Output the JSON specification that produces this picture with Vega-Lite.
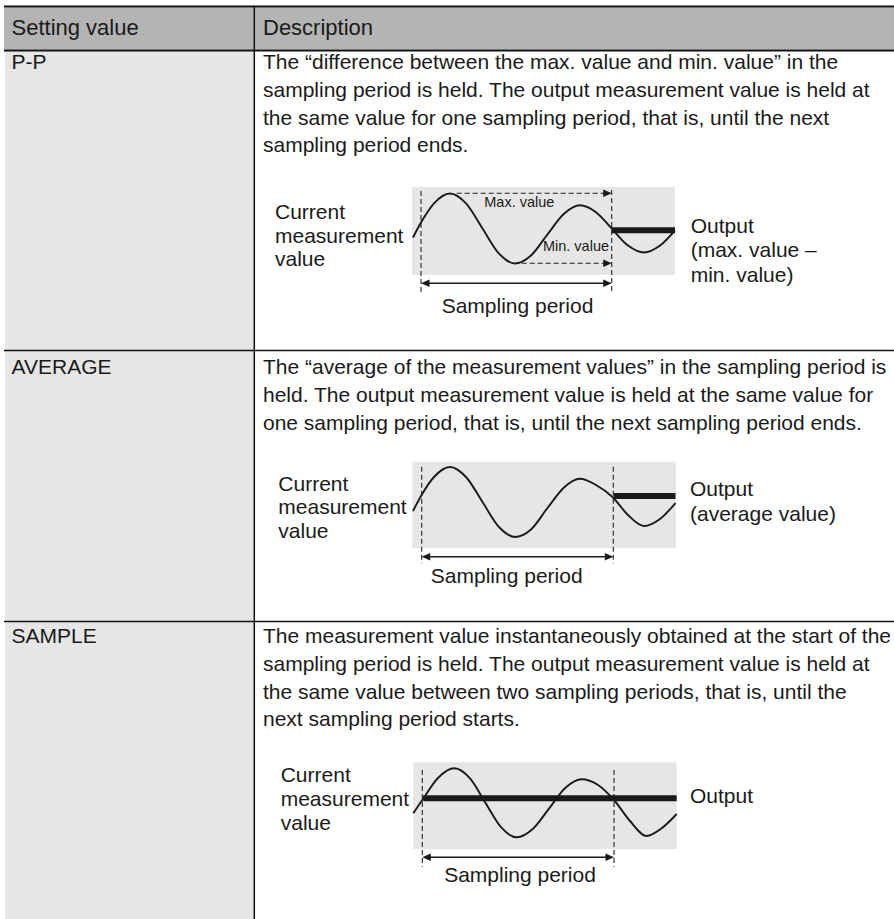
{
  "$schema": "https://vega.github.io/schema/vega-lite/v6.json",
  "width": 894,
  "height": 919,
  "padding": 0,
  "autosize": {"type": "none"},
  "background": "white",
  "config": {"view": {"stroke": null}},
  "datasets": {
    "rects": [
      {"kind": "header", "x": 4, "x2": 894, "y": 7.5, "y2": 49.5},
      {"kind": "col", "x": 5, "x2": 254, "y": 51, "y2": 919},
      {"kind": "box", "x": 412, "x2": 675, "y": 187, "y2": 275},
      {"kind": "box", "x": 412.3, "x2": 676, "y": 461.7, "y2": 548.3},
      {"kind": "box", "x": 413.3, "x2": 676.7, "y": 762.3, "y2": 849.3}
    ],
    "lines": [
      {"kind": "border2", "x": 4, "x2": 894, "y": 6.5, "y2": 6.5},
      {"kind": "border2", "x": 4, "x2": 894, "y": 50.5, "y2": 50.5},
      {"kind": "border1", "x": 4, "x2": 894, "y": 350.5, "y2": 350.5},
      {"kind": "border1", "x": 4, "x2": 894, "y": 621.5, "y2": 621.5},
      {"kind": "divider", "x": 254.3, "x2": 254.3, "y": 6, "y2": 919},
      {"kind": "dash", "x": 421, "x2": 421, "y": 191, "y2": 292},
      {"kind": "dash", "x": 611.7, "x2": 611.7, "y": 190, "y2": 292},
      {"kind": "dash", "x": 456.7, "x2": 607, "y": 193.3, "y2": 193.3},
      {"kind": "dash", "x": 521.7, "x2": 607, "y": 263.3, "y2": 263.3},
      {"kind": "dash", "x": 421.7, "x2": 421.7, "y": 466.7, "y2": 563.3},
      {"kind": "dash", "x": 613.3, "x2": 613.3, "y": 466.7, "y2": 563.3},
      {"kind": "dash", "x": 422.3, "x2": 422.3, "y": 770, "y2": 866.7},
      {"kind": "dash", "x": 614, "x2": 614, "y": 770, "y2": 866.7},
      {"kind": "solid", "x": 424, "x2": 609, "y": 283.3, "y2": 283.3},
      {"kind": "solid", "x": 424.5, "x2": 610.5, "y": 556.7, "y2": 556.7},
      {"kind": "solid", "x": 425, "x2": 611, "y": 857.3, "y2": 857.3},
      {"kind": "bar", "x": 612, "x2": 675, "y": 230.3, "y2": 230.3},
      {"kind": "bar", "x": 614, "x2": 675.5, "y": 496, "y2": 496},
      {"kind": "bar", "x": 423.3, "x2": 676.7, "y": 798.3, "y2": 798.3}
    ],
    "waves": [
      {"d": "PP", "x": 413, "y": 237.5}, {"d": "PP", "x": 421, "y": 222.6}, {"d": "PP", "x": 434, "y": 203.4},
      {"d": "PP", "x": 450, "y": 193.5}, {"d": "PP", "x": 466, "y": 203.4}, {"d": "PP", "x": 482.5, "y": 228.5},
      {"d": "PP", "x": 499, "y": 253.6}, {"d": "PP", "x": 515, "y": 263.5}, {"d": "PP", "x": 531, "y": 255.5},
      {"d": "PP", "x": 547.5, "y": 234.4}, {"d": "PP", "x": 564, "y": 213.8}, {"d": "PP", "x": 580, "y": 205.3},
      {"d": "PP", "x": 596, "y": 212.2}, {"d": "PP", "x": 612, "y": 228.9}, {"d": "PP", "x": 628, "y": 245.6},
      {"d": "PP", "x": 644, "y": 252.5}, {"d": "PP", "x": 660, "y": 245.6}, {"d": "PP", "x": 675, "y": 230.3},
      {"d": "AV", "x": 413, "y": 511}, {"d": "AV", "x": 421, "y": 496}, {"d": "AV", "x": 434, "y": 477},
      {"d": "AV", "x": 450, "y": 467}, {"d": "AV", "x": 466, "y": 477}, {"d": "AV", "x": 482.5, "y": 502},
      {"d": "AV", "x": 499, "y": 527}, {"d": "AV", "x": 515, "y": 537}, {"d": "AV", "x": 531, "y": 529.5},
      {"d": "AV", "x": 547.5, "y": 508}, {"d": "AV", "x": 564, "y": 487.5}, {"d": "AV", "x": 580, "y": 478.8},
      {"d": "AV", "x": 596, "y": 485}, {"d": "AV", "x": 612.5, "y": 497}, {"d": "AV", "x": 628, "y": 515},
      {"d": "AV", "x": 644, "y": 526}, {"d": "AV", "x": 660, "y": 519}, {"d": "AV", "x": 675.5, "y": 503},
      {"d": "SA", "x": 413.3, "y": 813.3}, {"d": "SA", "x": 422.3, "y": 800}, {"d": "SA", "x": 438, "y": 778},
      {"d": "SA", "x": 454.3, "y": 768.3}, {"d": "SA", "x": 470, "y": 778.4}, {"d": "SA", "x": 485.4, "y": 802.8},
      {"d": "SA", "x": 501, "y": 827.2}, {"d": "SA", "x": 516.7, "y": 837.3}, {"d": "SA", "x": 533, "y": 828.8},
      {"d": "SA", "x": 549.2, "y": 808.3}, {"d": "SA", "x": 565.5, "y": 787.8}, {"d": "SA", "x": 581.7, "y": 779.3},
      {"d": "SA", "x": 598, "y": 785}, {"d": "SA", "x": 614, "y": 800}, {"d": "SA", "x": 630, "y": 821},
      {"d": "SA", "x": 646.7, "y": 836}, {"d": "SA", "x": 662, "y": 828}, {"d": "SA", "x": 676.7, "y": 814}
    ],
    "heads": [
      {"dir": "right", "x": 611.7, "y": 193.3},
      {"dir": "right", "x": 611.7, "y": 263.3},
      {"dir": "left", "x": 421, "y": 283.3},
      {"dir": "right", "x": 611.7, "y": 283.3},
      {"dir": "left", "x": 421.7, "y": 556.7},
      {"dir": "right", "x": 613.3, "y": 556.7},
      {"dir": "left", "x": 422.3, "y": 857.3},
      {"dir": "right", "x": 614, "y": 857.3}
    ],
    "texts": [
      {"kind": "head", "x": 11.5, "y": 28, "text": "Setting value"},
      {"kind": "head", "x": 263, "y": 28, "text": "Description"},
      {"kind": "left", "x": 11.5, "y": 63, "text": "P-P"},
      {"kind": "left", "x": 263, "y": 63, "text": "The “difference between the max. value and min. value” in the"},
      {"kind": "left", "x": 263, "y": 90.8, "text": "sampling period is held. The output measurement value is held at"},
      {"kind": "left", "x": 263, "y": 118.6, "text": "the same value for one sampling period, that is, until the next"},
      {"kind": "left", "x": 263, "y": 146.4, "text": "sampling period ends."},
      {"kind": "left", "x": 275, "y": 213.3, "text": "Current"},
      {"kind": "left", "x": 275, "y": 236.7, "text": "measurement"},
      {"kind": "left", "x": 275, "y": 260, "text": "value"},
      {"kind": "left", "x": 690.7, "y": 226.7, "text": "Output"},
      {"kind": "left", "x": 690.7, "y": 251.2, "text": "(max. value –"},
      {"kind": "left", "x": 690.7, "y": 275.7, "text": "min. value)"},
      {"kind": "center", "x": 517.5, "y": 306.7, "text": "Sampling period"},
      {"kind": "small", "x": 519.3, "y": 203.3, "text": "Max. value"},
      {"kind": "small", "x": 576, "y": 247.3, "text": "Min. value"},
      {"kind": "left", "x": 11.5, "y": 368, "text": "AVERAGE"},
      {"kind": "left", "x": 263, "y": 368, "text": "The “average of the measurement values” in the sampling period is"},
      {"kind": "left", "x": 263, "y": 396, "text": "held. The output measurement value is held at the same value for"},
      {"kind": "left", "x": 263, "y": 424, "text": "one sampling period, that is, until the next sampling period ends."},
      {"kind": "left", "x": 278.3, "y": 485, "text": "Current"},
      {"kind": "left", "x": 278.3, "y": 508.3, "text": "measurement"},
      {"kind": "left", "x": 278.3, "y": 531.7, "text": "value"},
      {"kind": "left", "x": 690, "y": 490, "text": "Output"},
      {"kind": "left", "x": 690, "y": 514.5, "text": "(average value)"},
      {"kind": "center", "x": 506.7, "y": 576.7, "text": "Sampling period"},
      {"kind": "left", "x": 11.5, "y": 637, "text": "SAMPLE"},
      {"kind": "left", "x": 263, "y": 637, "text": "The measurement value instantaneously obtained at the start of the"},
      {"kind": "left", "x": 263, "y": 664.8, "text": "sampling period is held. The output measurement value is held at"},
      {"kind": "left", "x": 263, "y": 692.6, "text": "the same value between two sampling periods, that is, until the"},
      {"kind": "left", "x": 263, "y": 720.4, "text": "next sampling period starts."},
      {"kind": "left", "x": 280.7, "y": 776, "text": "Current"},
      {"kind": "left", "x": 280.7, "y": 800, "text": "measurement"},
      {"kind": "left", "x": 280.7, "y": 824, "text": "value"},
      {"kind": "left", "x": 690, "y": 796.7, "text": "Output"},
      {"kind": "center", "x": 520, "y": 876, "text": "Sampling period"}
    ]
  },
  "encoding": {
    "x": {"field": "x", "type": "quantitative", "scale": {"domain": [0, 894], "nice": false, "zero": false}, "axis": null},
    "y": {"field": "y", "type": "quantitative", "scale": {"domain": [0, 919], "nice": false, "zero": false, "reverse": true}, "axis": null}
  },
  "layer": [
    {
      "data": {"name": "rects"},
      "mark": {"type": "rect", "strokeWidth": 0},
      "encoding": {
        "x2": {"field": "x2"},
        "y2": {"field": "y2"},
        "color": {"field": "kind", "type": "nominal", "scale": {"domain": ["header", "col", "box"], "range": ["#b4b4b4", "#e6e6e6", "#e6e6e6"]}, "legend": null}
      }
    },
    {
      "data": {"name": "lines"},
      "transform": [{"filter": "datum.kind === 'border2'"}],
      "mark": {"type": "rule", "color": "#111111", "strokeWidth": 2.2},
      "encoding": {"x2": {"field": "x2"}, "y2": {"field": "y2"}}
    },
    {
      "data": {"name": "lines"},
      "transform": [{"filter": "datum.kind === 'border1'"}],
      "mark": {"type": "rule", "color": "#111111", "strokeWidth": 1.3},
      "encoding": {"x2": {"field": "x2"}, "y2": {"field": "y2"}}
    },
    {
      "data": {"name": "lines"},
      "transform": [{"filter": "datum.kind === 'divider'"}],
      "mark": {"type": "rule", "color": "#111111", "strokeWidth": 1.5},
      "encoding": {"x2": {"field": "x2"}, "y2": {"field": "y2"}}
    },
    {
      "data": {"name": "waves"},
      "mark": {"type": "line", "color": "#1a1a1a", "strokeWidth": 1.9, "interpolate": "monotone"},
      "encoding": {"detail": {"field": "d", "type": "nominal"}}
    },
    {
      "data": {"name": "lines"},
      "transform": [{"filter": "datum.kind === 'dash'"}],
      "mark": {"type": "rule", "color": "#222222", "strokeWidth": 1.1, "strokeDash": [5, 3]},
      "encoding": {"x2": {"field": "x2"}, "y2": {"field": "y2"}}
    },
    {
      "data": {"name": "lines"},
      "transform": [{"filter": "datum.kind === 'solid'"}],
      "mark": {"type": "rule", "color": "#1a1a1a", "strokeWidth": 1.4},
      "encoding": {"x2": {"field": "x2"}, "y2": {"field": "y2"}}
    },
    {
      "data": {"name": "lines"},
      "transform": [{"filter": "datum.kind === 'bar'"}],
      "mark": {"type": "rule", "color": "#1a1a1a", "strokeWidth": 6, "strokeCap": "butt"},
      "encoding": {"x2": {"field": "x2"}, "y2": {"field": "y2"}}
    },
    {
      "data": {"name": "heads"},
      "transform": [{"filter": "datum.dir === 'right'"}],
      "mark": {"type": "point", "shape": "M0,0L-2,-0.9L-2,0.9Z", "size": 72, "filled": true, "color": "#1a1a1a", "opacity": 1, "strokeWidth": 0}
    },
    {
      "data": {"name": "heads"},
      "transform": [{"filter": "datum.dir === 'left'"}],
      "mark": {"type": "point", "shape": "M0,0L2,-0.9L2,0.9Z", "size": 72, "filled": true, "color": "#1a1a1a", "opacity": 1, "strokeWidth": 0}
    },
    {
      "data": {"name": "texts"},
      "transform": [{"filter": "datum.kind === 'head'"}],
      "mark": {"type": "text", "align": "left", "baseline": "middle", "font": "Liberation Sans", "fontSize": 22, "color": "#1a1a1a"},
      "encoding": {"text": {"field": "text"}}
    },
    {
      "data": {"name": "texts"},
      "transform": [{"filter": "datum.kind === 'left'"}],
      "mark": {"type": "text", "align": "left", "baseline": "middle", "font": "Liberation Sans", "fontSize": 21, "color": "#1a1a1a"},
      "encoding": {"text": {"field": "text"}}
    },
    {
      "data": {"name": "texts"},
      "transform": [{"filter": "datum.kind === 'center'"}],
      "mark": {"type": "text", "align": "center", "baseline": "middle", "font": "Liberation Sans", "fontSize": 21, "color": "#1a1a1a"},
      "encoding": {"text": {"field": "text"}}
    },
    {
      "data": {"name": "texts"},
      "transform": [{"filter": "datum.kind === 'small'"}],
      "mark": {"type": "text", "align": "center", "baseline": "middle", "font": "Liberation Sans", "fontSize": 14.5, "color": "#1a1a1a"},
      "encoding": {"text": {"field": "text"}}
    }
  ]
}
